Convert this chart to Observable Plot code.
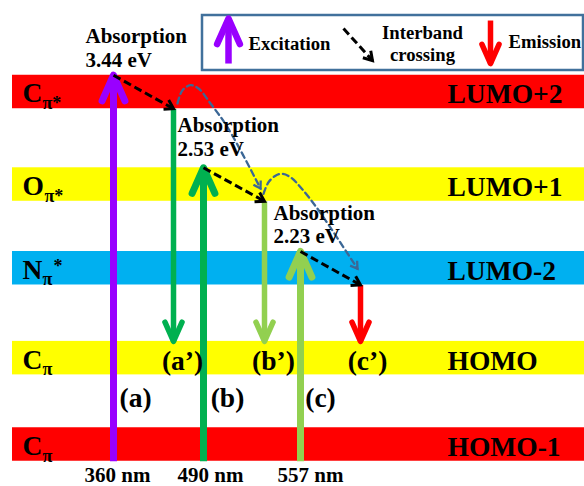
<!DOCTYPE html>
<html><head><meta charset="utf-8">
<script src="https://cdn.jsdelivr.net/npm/d3@7"></script>
<script src="https://cdn.jsdelivr.net/npm/@observablehq/plot@0.6"></script>
<style>html,body{margin:0;padding:0;background:#fff}#chart svg{display:block}</style>
</head><body><div id="chart"></div>
<script>
// ---- Energy levels (diagram energy units, HOMO-1 = 0) ----
const levelNames  = ["HOMO-1", "HOMO", "LUMO-2", "LUMO+1", "LUMO+2"];
const levelValues = [0, 0.98, 2.0, 2.95, 4.0];
const levelColors = ["#FF0000", "#FFFF00", "#00B0F0", "#FFFF00", "#FF0000"];
const orbitalBase = ["C", "C", "N", "O", "C"];
const orbitalSub  = ["π", "π", "π", "π*", "π*"];
const orbitalSup  = ["", "", "*", "", ""];
const bandHalf = 0.19;

// ---- Excitations (absorption) ----
const exciteX      = [113, 203, 300];
const exciteLevel  = [4, 3, 2];            // index into levelValues
const exciteColors = ["#9900FF", "#00B050", "#92D050"];
const exciteNames  = ["(a)", "(b)", "(c)"];
const exciteNameX  = [135, 227, 320];
const wavelengths  = ["360 nm", "490 nm", "557 nm"];
const wavelengthX  = [117, 210, 310];
const absorptionEV = ["3.44 eV", "2.53 eV", "2.23 eV"];
const absorptionX  = [85, 177, 273];

// ---- Emissions ----
const emitX      = [173, 264, 360];
const emitColors = ["#00B050", "#92D050", "#FF0000"];
const emitNames  = ["(a’)", "(b’)", "(c’)"];
const emitNameX  = [182, 273, 367];

// ---- Thermal-relaxation curves ----
const curve1 = [[177, 3.87], [182, 4.02], [190, 4.077], [198, 4.04], [210, 3.87], [227, 3.60], [260, 2.905]];
const curve2 = [[263, 2.845], [268, 2.976], [275, 3.05], [282, 3.072], [290, 3.033], [300, 2.92], [317, 2.675], [357, 1.994]];

// ---- Legend ----
const legendBox = {x1: 202, x2: 583, y1: 4.244, y2: 4.868};
const legendLabels = ["Excitation", "Interband\ncrossing", "Emission"];

// scales (shared with Plot)
const W = 584, H = 486;
const xDomain = [0, 584], xRange = [0, 584];
const yDomain = [0, 4], yRange = [444, 91.5];
const xs = d3.scaleLinear(xDomain, xRange);
const ys = d3.scaleLinear(yDomain, yRange);
const angleOf = (x1, y1, x2, y2) => {
  const dx = xs(x2) - xs(x1), dy = ys(y2) - ys(y1);
  return Math.atan2(dx, -dy) * 180 / Math.PI;
};

// chevron arrowhead symbols, tip at origin pointing up
const makeChevron = (deg) => ({
  draw(ctx, size) {
    const L = Math.sqrt(size / Math.PI);
    const a = deg * Math.PI / 180;
    ctx.moveTo(-L * Math.sin(a), L * Math.cos(a));
    ctx.lineTo(0, 0);
    ctx.lineTo(L * Math.sin(a), L * Math.cos(a));
  }
});
const chevron = makeChevron(24);
const chevronWide = makeChevron(32);

// ---- build tables ----
const levels = levelNames.map((name, i) => ({
  name, v: levelValues[i], color: levelColors[i],
  base: orbitalBase[i], sub: orbitalSub[i], sup: orbitalSup[i]
}));

const solidArrows = [];
exciteX.forEach((x, i) => {
  solidArrows.push({x1: x, y1: levelValues[0] - bandHalf, x2: x, y2: levelValues[exciteLevel[i]] + bandHalf,
    color: exciteColors[i], w: 7, L: 28});
});
emitX.forEach((x, i) => {
  solidArrows.push({x1: x, y1: levelValues[exciteLevel[i]] - bandHalf, x2: x, y2: levelValues[1] + bandHalf,
    color: emitColors[i], w: 5.5, L: 21});
});
// legend arrows
solidArrows.push({x1: 228, y1: 4.323, x2: 228, y2: 4.834, color: "#9900FF", w: 6.5, L: 28});
solidArrows.push({x1: 490, y1: 4.811, x2: 490, y2: 4.323, color: "#FF0000", w: 5.5, L: 21});
solidArrows.forEach(d => d.rot = angleOf(d.x1, d.y1, d.x2, d.y2));

const crossings = exciteX.map((x, i) => ({
  x1: x, y1: levelValues[exciteLevel[i]] + bandHalf,
  x2: emitX[i], y2: levelValues[exciteLevel[i]] - bandHalf
}));
crossings.push({x1: 343, y1: 4.72, x2: 372, y2: 4.357});
crossings.forEach(d => d.rot = angleOf(d.x1, d.y1, d.x2, d.y2));

const curves = [
  ...curve1.map(([x, y]) => ({k: 1, x, y})),
  ...curve2.map(([x, y]) => ({k: 2, x, y}))
];
const curveHeads = [curve1, curve2].map(c => {
  const [xa, ya] = c[c.length - 3], [xb, yb] = c[c.length - 1];
  return {x: xb, y: yb, rot: angleOf(xa, ya, xb, yb)};
});

const absorptionLabels = absorptionEV.map((e, i) => ({
  text: "Absorption\n" + e, x: absorptionX[i],
  y: [4.289, 3.279, 2.281][i]
}));

const serif = "'Liberation Serif', 'Times New Roman', serif";
const T = (data, opts) => Plot.text(data, {fontFamily: serif, fontWeight: "bold", fill: "black", ...opts});

const chart = Plot.plot({
  width: W, height: H,
  marginTop: 0, marginBottom: 0, marginLeft: 0, marginRight: 0,
  x: {domain: xDomain, range: xRange, axis: null},
  y: {domain: yDomain, range: yRange, axis: null},
  r: {type: "identity"},
  style: {fontFamily: serif, background: "white"},
  marks: [
    // bands
    Plot.rect(levels, {x1: 12, x2: 584, y1: d => d.v - bandHalf, y2: d => d.v + bandHalf, fill: d => d.color}),
    // legend box
    Plot.rect([legendBox], {x1: "x1", x2: "x2", y1: "y1", y2: "y2", fill: "white", stroke: "#41719C", strokeWidth: 2.5}),
    // relaxation curves
    Plot.line(curves, {x: "x", y: "y", z: "k", curve: "catmull-rom", stroke: "#3B6796", strokeWidth: 2.3, strokeDasharray: "6,4"}),
    Plot.dot(curveHeads, {x: "x", y: "y", rotate: "rot", symbol: chevronWide, r: 8, fill: "none", stroke: "#3B6796", strokeWidth: 2.3, strokeLinejoin: "miter"}),
    // solid arrows
    Plot.link(solidArrows, {x1: "x1", y1: "y1", x2: "x2", y2: "y2", stroke: d => d.color, strokeWidth: d => d.w, strokeLinecap: "butt"}),
    Plot.dot(solidArrows, {x: "x2", y: "y2", rotate: "rot", symbol: chevron, r: "L", fill: "none", stroke: d => d.color, strokeWidth: d => d.w, strokeLinecap: "round", strokeLinejoin: "round"}),
    // interband crossing arrows
    Plot.link(crossings, {x1: "x1", y1: "y1", x2: "x2", y2: "y2", stroke: "black", strokeWidth: 3, strokeDasharray: "8,4"}),
    Plot.dot(crossings, {x: "x2", y: "y2", rotate: "rot", symbol: chevronWide, r: 10, fill: "none", stroke: "black", strokeWidth: 3, strokeLinejoin: "miter"}),
    // orbital labels (left)
    T(levels, {x: 22, y: d => d.v - 0.119, text: "base", fontSize: 27.5, textAnchor: "start", lineAnchor: "bottom"}),
    T(levels, {x: d => d.base === "O" ? 44 : 42, y: d => d.v - 0.193, text: "sub", fontSize: 18, textAnchor: "start", lineAnchor: "bottom"}),
    T(levels, {x: 53, y: d => d.v - 0.045, text: "sup", fontSize: 18, textAnchor: "start", lineAnchor: "bottom"}),
    // level names (right)
    T(levels, {x: 447, y: d => d.v - 0.13, text: "name", fontSize: 27.5, textAnchor: "start", lineAnchor: "bottom"}),
    // absorption labels
    T(absorptionLabels, {x: "x", y: "y", text: "text", fontSize: 21, textAnchor: "start", lineAnchor: "bottom", lineHeight: 1.12}),
    // transition labels
    T(emitNames, {x: (d, i) => emitNameX[i], y: 0.84, text: d => d, fontSize: 27.5, lineAnchor: "bottom"}),
    T(exciteNames, {x: (d, i) => exciteNameX[i], y: 0.42, text: d => d, fontSize: 27.5, lineAnchor: "bottom"}),
    T(wavelengths, {x: (d, i) => wavelengthX[i], y: -0.43, text: d => d, fontSize: 21, lineAnchor: "bottom"}),
    // legend labels
    T([legendLabels[0]], {x: 248, y: 4.482, text: d => d, fontSize: 18.7, textAnchor: "start", lineAnchor: "bottom"}),
    T([legendLabels[1]], {x: 422, y: 4.357, text: d => d, fontSize: 18.7, lineAnchor: "bottom", lineHeight: 1.15}),
    T([legendLabels[2]], {x: 508, y: 4.494, text: d => d, fontSize: 18.7, textAnchor: "start", lineAnchor: "bottom"})
  ]
});
document.getElementById("chart").appendChild(chart);
</script>
</body></html>
